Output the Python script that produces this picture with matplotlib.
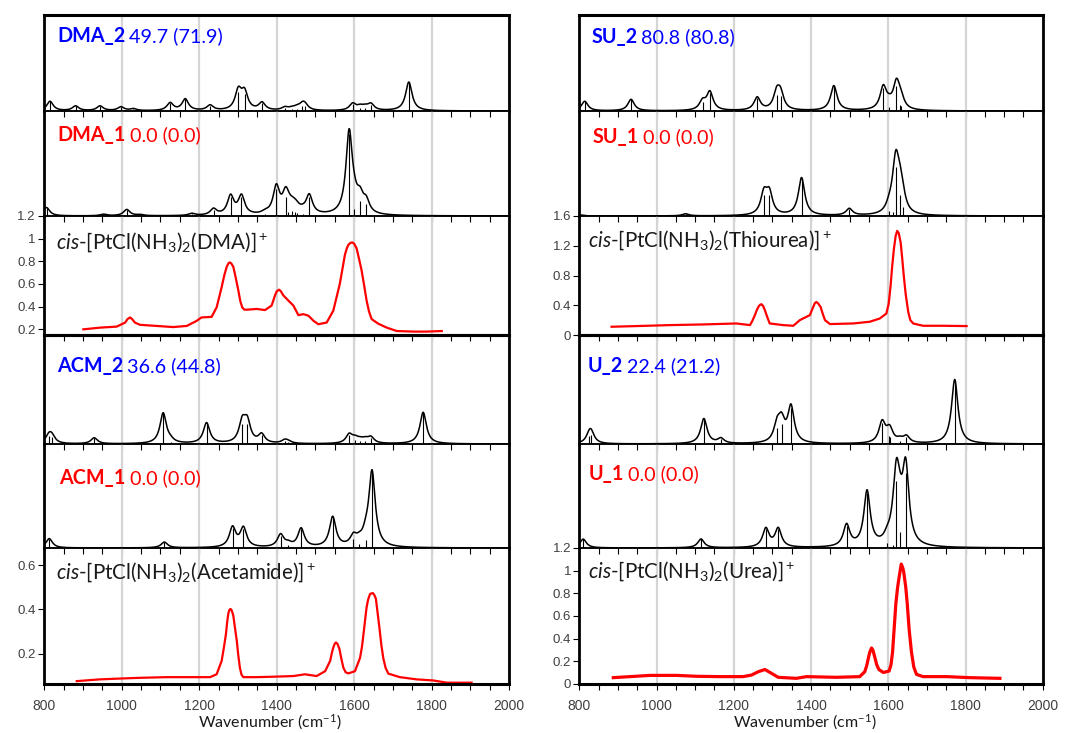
import numpy as np
import matplotlib.pyplot as plt
from matplotlib.ticker import MultipleLocator

plt.rcParams['font.family'] = ['Liberation Sans', 'DejaVu Sans']
plt.rcParams['mathtext.fontset'] = 'custom'
plt.rcParams['mathtext.rm'] = 'Lato'
plt.rcParams['mathtext.it'] = 'Lato:italic'
plt.rcParams['mathtext.bf'] = 'Lato:bold'

# calculated harmonic frequencies (cm-1) and relative IR intensities
dma2_freq = [815, 881, 944, 998, 1030, 1125, 1164, 1228, 1301, 1317, 1362,
             1421, 1439, 1452, 1466, 1473, 1596, 1615, 1628, 1643, 1741]
dma2_int = [0.10, 0.05, 0.05, 0.04, 0.02, 0.08, 0.12, 0.055, 0.20, 0.18, 0.08,
            0.03, 0.02, 0.025, 0.05, 0.05, 0.07, 0.035, 0.03, 0.065, 0.30]
dma1_freq = [806, 953, 1013, 1047, 1181, 1237, 1281, 1309, 1370, 1399, 1423,
             1430, 1440, 1447, 1453, 1467, 1484, 1587, 1600, 1615, 1631]
dma1_int = [0.08, 0.015, 0.06, 0.01, 0.02, 0.06, 0.18, 0.18, 0.02, 0.26, 0.18,
            0.04, 0.05, 0.04, 0.03, 0.02, 0.18, 0.78, 0.07, 0.14, 0.11]

acm2_freq = [812, 820, 929, 1107, 1126, 1219, 1311, 1324, 1361, 1421, 1430,
             1587, 1602, 1615, 1628, 1643, 1778]
acm2_int = [0.07, 0.06, 0.055, 0.28, 0.02, 0.19, 0.185, 0.185, 0.08, 0.03, 0.015,
            0.08, 0.04, 0.025, 0.03, 0.055, 0.29]
acm1_freq = [813, 1110, 1286, 1314, 1410, 1430, 1463, 1544.5, 1598, 1613, 1630, 1646]
acm1_int = [0.09, 0.055, 0.19, 0.185, 0.12, 0.03, 0.18, 0.29, 0.09, 0.04, 0.08, 0.72]

su2_freq = [814, 934, 1119, 1138, 1260.6, 1311, 1321, 1459, 1587, 1602, 1621, 1630, 1634]
su2_int = [0.10, 0.12, 0.09, 0.19, 0.135, 0.17, 0.16, 0.26, 0.235, 0.04, 0.26, 0.06, 0.05]
su1_freq = [801, 1075, 1278, 1292, 1375.4, 1499, 1602, 1613, 1619.6, 1630, 1637]
su1_int = [0.01, 0.02, 0.20, 0.20, 0.36, 0.065, 0.05, 0.04, 0.47, 0.20, 0.09]

u2_freq = [826, 831, 1122.5, 1166.6, 1312, 1323.6, 1348, 1584, 1602, 1605, 1630, 1647, 1772]
u2_int = [0.07, 0.08, 0.23, 0.045, 0.15, 0.18, 0.33, 0.19, 0.07, 0.06, 0.03, 0.06, 0.59]
u1_freq = [810, 1115, 1283, 1315, 1492, 1545, 1597, 1611, 1621, 1630, 1645]
u1_int = [0.085, 0.085, 0.18, 0.18, 0.21, 0.53, 0.05, 0.03, 0.64, 0.15, 0.72]

# relative energies, kJ/mol
dma_energies = ['49.7 (71.9)', '0.0 (0.0)']
acm_energies = ['36.6 (44.8)', '0.0 (0.0)']
su_energies = ['80.8 (80.8)', '0.0 (0.0)']
u_energies = ['22.4 (21.2)', '0.0 (0.0)']

# measured IRMPD spectra
dma_exp_wn = [901, 944, 987, 1009, 1015, 1021.5, 1027, 1034, 1047, 1090, 1133, 1168,
              1193.5, 1206, 1232, 1245, 1258, 1265, 1271, 1276, 1279.6, 1283, 1288,
              1294, 1301, 1306, 1311, 1316, 1322.6, 1348, 1370, 1387, 1395.7, 1400,
              1406, 1411, 1417, 1430, 1443, 1456, 1469, 1482, 1495, 1507.5, 1529,
              1546, 1563, 1570, 1576, 1581, 1585, 1590, 1595, 1600, 1606, 1612, 1619,
              1626, 1632, 1638, 1645, 1662, 1684, 1710, 1753, 1787, 1826]
dma_exp_y = [0.20, 0.215, 0.224, 0.26, 0.29, 0.305, 0.29, 0.26, 0.24, 0.23, 0.22, 0.23,
             0.275, 0.305, 0.31, 0.394, 0.573, 0.68, 0.752, 0.785, 0.79, 0.78, 0.752,
             0.66, 0.543, 0.45, 0.394, 0.375, 0.373, 0.38, 0.37, 0.41, 0.50, 0.535,
             0.55, 0.535, 0.50, 0.454, 0.41, 0.325, 0.334, 0.32, 0.275, 0.245, 0.26,
             0.364, 0.603, 0.74, 0.857, 0.915, 0.946, 0.962, 0.967, 0.955, 0.916, 0.83,
             0.722, 0.58, 0.454, 0.36, 0.29, 0.25, 0.215, 0.185, 0.18, 0.18, 0.185]

acm_exp_wn = [884, 944, 1000, 1047, 1116, 1176, 1228, 1245, 1258, 1264, 1269, 1272,
              1275, 1278, 1281, 1284, 1288, 1292, 1297, 1301, 1305, 1309, 1314, 1348,
              1391, 1443, 1473, 1503, 1525, 1538, 1542, 1546, 1550, 1553, 1557, 1562,
              1567, 1572, 1578, 1585, 1602, 1615, 1620, 1624, 1628, 1632, 1636, 1641,
              1648, 1652, 1656, 1660, 1665, 1670, 1675, 1681, 1688, 1718, 1761, 1804,
              1839, 1903]
acm_exp_y = [0.075, 0.083, 0.087, 0.09, 0.093, 0.093, 0.093, 0.106, 0.167, 0.23, 0.288,
             0.34, 0.38, 0.398, 0.402, 0.395, 0.372, 0.32, 0.258, 0.19, 0.136, 0.105,
             0.093, 0.093, 0.095, 0.098, 0.106, 0.098, 0.12, 0.167, 0.20, 0.227, 0.245,
             0.25, 0.243, 0.22, 0.175, 0.136, 0.115, 0.11, 0.12, 0.18, 0.23, 0.288,
             0.35, 0.41, 0.445, 0.47, 0.474, 0.465, 0.448, 0.39, 0.318, 0.24, 0.18,
             0.135, 0.109, 0.093, 0.083, 0.078, 0.068, 0.068]

su_exp_wn = [883.5, 948, 1034.5, 1121, 1207, 1242, 1248, 1254.6, 1260, 1265, 1269,
             1272, 1276, 1280.5, 1286, 1293, 1328, 1354, 1371, 1388, 1397, 1405.6,
             1410, 1414, 1419, 1424.6, 1430, 1436, 1449, 1509, 1552, 1578, 1595, 1601,
             1606, 1610, 1614.5, 1619, 1623, 1627, 1632, 1636, 1640, 1645, 1651.6,
             1657, 1664.5, 1690, 1742, 1802.6]
su_exp_y = [0.111, 0.12, 0.133, 0.142, 0.155, 0.133, 0.19, 0.267, 0.34, 0.39, 0.41,
            0.413, 0.39, 0.333, 0.25, 0.155, 0.133, 0.124, 0.20, 0.244, 0.267, 0.378,
            0.43, 0.444, 0.42, 0.378, 0.29, 0.20, 0.147, 0.155, 0.178, 0.222, 0.289,
            0.42, 0.667, 0.92, 1.156, 1.33, 1.40, 1.37, 1.244, 1.03, 0.80, 0.55, 0.311,
            0.20, 0.155, 0.124, 0.124, 0.12]

u_exp_wn = [888, 931, 983, 1052, 1103.6, 1164, 1224, 1246, 1263, 1280.5, 1297.7,
            1315, 1362, 1388, 1466, 1526, 1539, 1544, 1548, 1552, 1556.6, 1560, 1565,
            1570, 1575.6, 1587, 1602, 1607, 1611, 1615, 1619.6, 1624, 1628, 1633.5,
            1637, 1640, 1645, 1649, 1654, 1660, 1666, 1673, 1690, 1751, 1811, 1889]
u_exp_y = [0.056, 0.065, 0.076, 0.076, 0.068, 0.065, 0.065, 0.079, 0.108, 0.128, 0.094,
           0.059, 0.05, 0.065, 0.059, 0.065, 0.108, 0.16, 0.223, 0.28, 0.318, 0.30,
           0.237, 0.17, 0.128, 0.102, 0.114, 0.17, 0.28, 0.48, 0.712, 0.85, 0.942,
           1.058, 1.03, 0.986, 0.86, 0.712, 0.48, 0.28, 0.15, 0.085, 0.065, 0.065,
           0.056, 0.05]

dma_ticks = [0.2, 0.4, 0.6, 0.8, 1.0, 1.2]
acm_ticks = [0.2, 0.4, 0.6]
su_ticks = [0, 0.4, 0.8, 1.2, 1.6]
u_ticks = [0, 0.2, 0.4, 0.6, 0.8, 1.0, 1.2]
x_ticks = [800, 1000, 1200, 1400, 1600, 1800, 2000]

W, H = 1066, 733
fig = plt.figure(figsize=(W / 100, H / 100), dpi=100)
renderer = fig.canvas.get_renderer()

grid_wn = np.linspace(800, 2000, 2401)


def broaden(freq, inten, hwhm=10.0):
    f = np.asarray(freq, float)[:, None]
    a = np.asarray(inten, float)[:, None]
    return (a * hwhm ** 2 / ((grid_wn - f) ** 2 + hwhm ** 2)).sum(axis=0)


def make_ax(x0, x1, top, bottom):
    ax = fig.add_axes([x0 / W, 1 - bottom / H, (x1 - x0) / W, (bottom - top) / H])
    ax.set_facecolor('none')
    ax.set_xlim(800, 2000)
    ax.xaxis.set_major_locator(MultipleLocator(200))
    ax.xaxis.set_minor_locator(MultipleLocator(50))
    ax.tick_params(axis='x', which='both', direction='out', length=4, width=0.8,
                   labelbottom=False)
    ax.xaxis.grid(True, which='major', color='#d5d5d5', lw=1.6)
    ax.set_axisbelow(True)
    for s in ax.spines.values():
        s.set_linewidth(1.1)
    return ax


def calc_panel(ax, freq, inten, name, energy, color, dx, dy):
    ax.plot(grid_wn, broaden(freq, inten), color='black', lw=1.1)
    ax.vlines(freq, 0, inten, colors='black', lw=0.8)
    ax.set_ylim(0, 1)
    ax.set_yticks([])
    t = ax.annotate(name, xy=(0, 1), xycoords='axes fraction', xytext=(dx, -dy),
                    textcoords='offset pixels', va='baseline', color=color,
                    family='Lato', weight='bold', fontsize=14.2)
    w = t.get_window_extent(renderer).width
    ax.annotate(energy, xy=(0, 1), xycoords='axes fraction', xytext=(dx + w + 4, -dy),
                textcoords='offset pixels', va='baseline', color=color,
                family='Lato', fontsize=14.2)


def exp_panel(ax, x, y, lw, ylim, ticks, ligand, dx, dy):
    ax.plot(x, y, color='#ff0000', lw=lw, solid_joinstyle='round')
    ax.set_ylim(*ylim)
    ax.set_yticks(ticks)
    ax.set_yticklabels(['{:g}'.format(v) for v in ticks])
    ax.tick_params(axis='y', direction='out', length=4, width=0.8, labelsize=9.5,
                   labelcolor='#404040', pad=2)
    ax.annotate(r'$\mathit{cis}$-[PtCl(NH$_3$)$_2$(' + ligand + r')]$^+$',
                xy=(0, 1), xycoords='axes fraction', xytext=(dx, -dy),
                textcoords='offset pixels', va='baseline', color='#1a1a1a',
                family='Lato', fontsize=14.8)


def frame(axes):
    axes[0].spines['top'].set_linewidth(2.2)
    axes[-1].spines['bottom'].set_linewidth(2.2)
    for ax in axes:
        ax.spines['left'].set_linewidth(2.0)
        ax.spines['right'].set_linewidth(2.0)


rows = [(15, 111), (111, 216), (216, 335), (335, 444), (444, 548), (548, 684)]
cols = [(44.2, 509.2), (579.3, 1042.8)]

left = [make_ax(cols[0][0], cols[0][1], t, b) for t, b in rows]
right = [make_ax(cols[1][0], cols[1][1], t, b) for t, b in rows]

calc_panel(left[0], dma2_freq, dma2_int, 'DMA_2', dma_energies[0], '#0000ff', 13, 27)
calc_panel(left[1], dma1_freq, dma1_int, 'DMA_1', dma_energies[1], '#ff0000', 13, 30)
exp_panel(left[2], dma_exp_wn, dma_exp_y, 1.6, (0.15, 1.2), dma_ticks, 'DMA', 12, 33)
calc_panel(left[3], acm2_freq, acm2_int, 'ACM_2', acm_energies[0], '#0000ff', 13, 37)
calc_panel(left[4], acm1_freq, acm1_int, 'ACM_1', acm_energies[1], '#ff0000', 15, 40)
exp_panel(left[5], acm_exp_wn, acm_exp_y, 1.6, (0.062, 0.678), acm_ticks, 'Acetamide', 12, 31)

calc_panel(right[0], su2_freq, su2_int, 'SU_2', su_energies[0], '#0000ff', 12, 28)
calc_panel(right[1], su1_freq, su1_int, 'SU_1', su_energies[1], '#ff0000', 13, 32)
exp_panel(right[2], su_exp_wn, su_exp_y, 1.6, (0, 1.6), su_ticks, 'Thiourea', 9, 31)
calc_panel(right[3], u2_freq, u2_int, 'U_2', u_energies[0], '#0000ff', 8, 37)
calc_panel(right[4], u1_freq, u1_int, 'U_1', u_energies[1], '#ff0000', 9, 36)
exp_panel(right[5], u_exp_wn, u_exp_y, 2.3, (0, 1.2), u_ticks, 'Urea', 9, 30)

for axes in (left[:3], left[3:], right[:3], right[3:]):
    frame(axes)

for ax in (left[5], right[5]):
    ax.set_xticks(x_ticks)
    ax.tick_params(axis='x', which='major', labelbottom=True, labelsize=10,
                   labelcolor='#404040', pad=7)

fig.text(270 / W, 1 - 722 / H, 'Wavenumber (cm$^{-1}$)', ha='center', va='center',
         family='Lato', fontsize=11.5, color='#1a1a1a')
fig.text(805 / W, 1 - 722 / H, 'Wavenumber (cm$^{-1}$)', ha='center', va='center',
         family='Lato', fontsize=11.5, color='#1a1a1a')

fig.savefig('out.png', dpi=100)
